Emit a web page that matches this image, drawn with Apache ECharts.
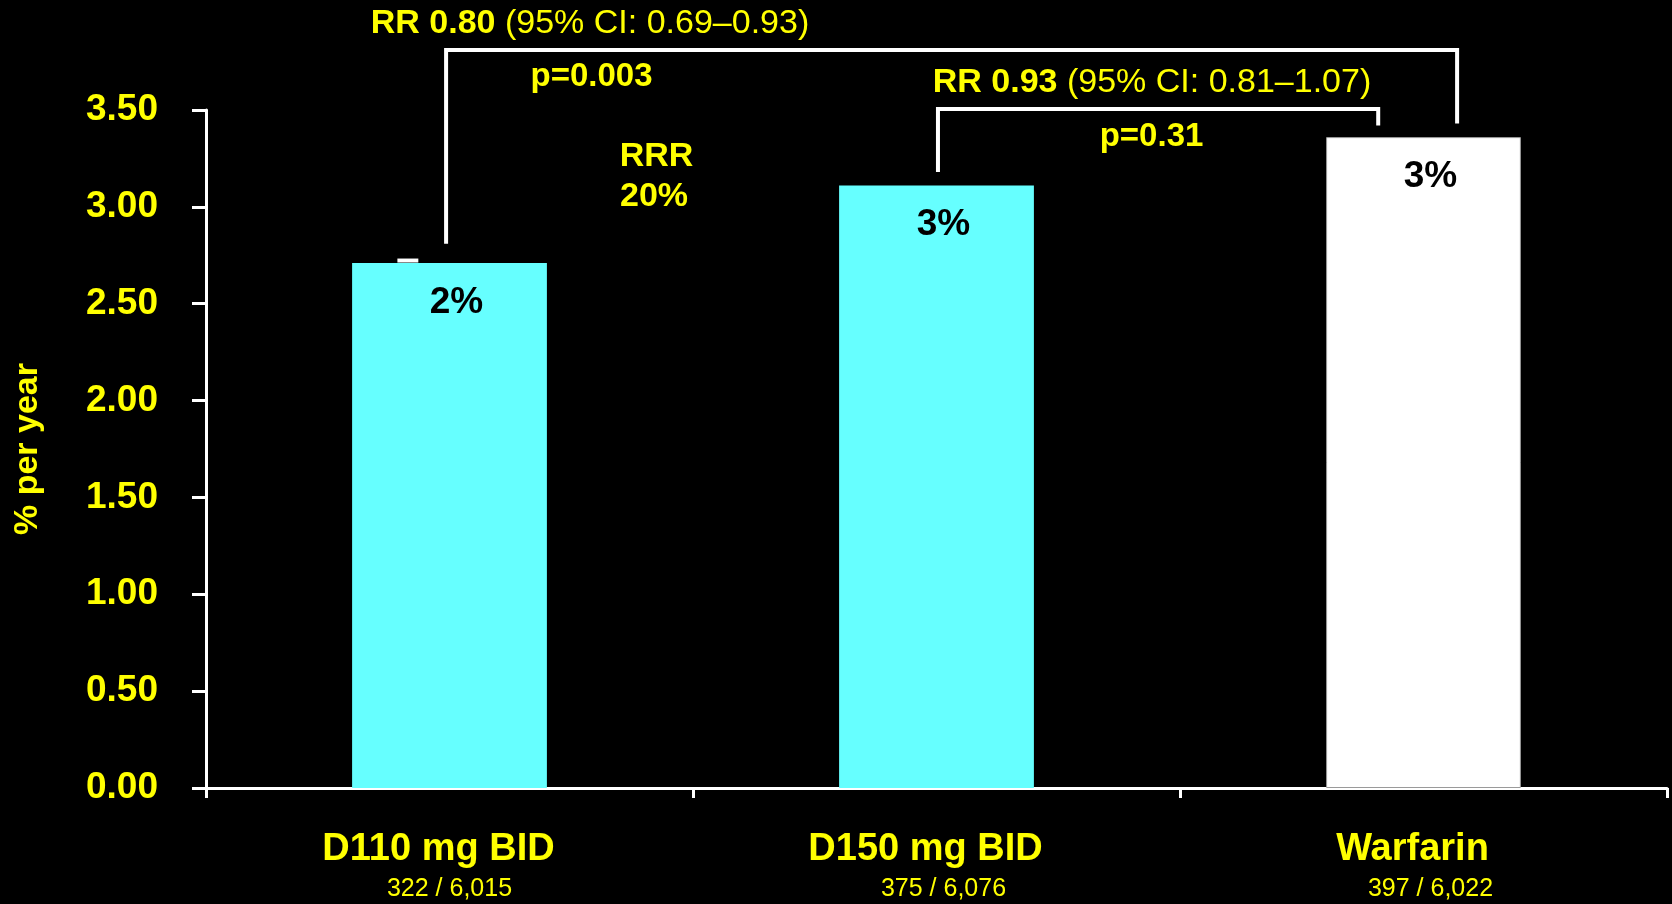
<!DOCTYPE html>
<html>
<head>
<meta charset="utf-8">
<script src="https://cdn.jsdelivr.net/npm/echarts@6/dist/echarts.min.js"></script>
<style>
  html, body { margin: 0; padding: 0; background: #000; }
  #chart { width: 1672px; height: 904px; }
</style>
</head>
<body>
<div id="chart"></div>
<script>
// Annual event rate by treatment arm
const categories = ['D110 mg BID', 'D150 mg BID', 'Warfarin'];
const eventCounts = ['322 / 6,015', '375 / 6,076', '397 / 6,022'];
const ratePerYear = [2.71, 3.11, 3.36];
const barColors = ['#66FFFF', '#66FFFF', '#FFFFFF'];
const yAxisName = '% per year';

// Pairwise comparisons against warfarin
const rrValues = ['RR 0.80', 'RR 0.93'];
const ciTexts = ['(95% CI: 0.69–0.93)', '(95% CI: 0.81–1.07)'];
const pTexts = ['p=0.003', 'p=0.31'];
const rrrLines = ['RRR', '20%'];

// Bracket geometry in axis units (category index, % per year)
const bracketLayout = [
  { x0: -0.007, x1: 2.069, top: 3.81, bot0: 2.81, bot1: 3.43, rrAt: [0.2885, 3.947], pAt: [0.2916, 3.671] },
  { x0: 1.003, x1: 1.907, top: 3.505, bot0: 3.18, bot1: 3.42, rrAt: [1.4425, 3.64], pAt: [1.4415, 3.363] }
];
const rrrAt = [[0.425, 3.258], [0.42, 3.051]];
// short white tick resting on the first bar (category offset range)
const capSpan = [-0.107, -0.064];

const YELLOW = '#FFFF00';
const FONT = '"Liberation Sans", Arial, Helvetica, sans-serif';

const chart = echarts.init(document.getElementById('chart'), null, { renderer: 'canvas' });

function toPx(api, x, y) {
  const base = api.coord([0, y]);
  const band = api.size([1, 0])[0];
  return [base[0] + x * band, base[1]];
}

function yellowText(pos, text, rich, size, weight) {
  return {
    type: 'text',
    x: pos[0], y: pos[1],
    style: {
      text: text,
      fill: YELLOW,
      font: (weight || 'bold') + ' ' + size + 'px ' + FONT,
      align: 'center',
      verticalAlign: 'middle',
      rich: rich
    },
    z2: 10
  };
}

function renderBracket(params, api) {
  const i = params.dataIndex;
  const b = bracketLayout[i];
  const pTopL = toPx(api, b.x0, b.top);
  const pTopR = toPx(api, b.x1, b.top);
  const pBotL = toPx(api, b.x0, b.bot0);
  const pBotR = toPx(api, b.x1, b.bot1);
  const children = [{
    type: 'polyline',
    shape: { points: [pBotL, pTopL, pTopR, pBotR] },
    style: { stroke: '#FFFFFF', lineWidth: 4, fill: null, lineJoin: 'miter' }
  }];
  const rich = {
    b: { fontFamily: FONT, fontWeight: 'bold', fontSize: 34, fill: YELLOW, color: YELLOW },
    n: { fontFamily: FONT, fontWeight: 'normal', fontSize: 34, fill: YELLOW, color: YELLOW }
  };
  children.push(yellowText(toPx(api, b.rrAt[0], b.rrAt[1]),
    '{b|' + rrValues[i] + '} {n|' + ciTexts[i] + '}', rich, 34));
  children.push(yellowText(toPx(api, b.pAt[0], b.pAt[1]), pTexts[i], null, 33));
  if (i === 0) {
    rrrLines.forEach(function (line, k) {
      children.push(yellowText(toPx(api, rrrAt[k][0], rrrAt[k][1]), line, null, 34));
    });
    const c0 = toPx(api, capSpan[0], ratePerYear[0]);
    const c1 = toPx(api, capSpan[1], ratePerYear[0]);
    children.push({
      type: 'line',
      shape: { x1: c0[0], y1: c0[1] - 2.5, x2: c1[0], y2: c1[1] - 2.5 },
      style: { stroke: '#FFFFFF', lineWidth: 4 }
    });
  }
  return { type: 'group', children: children };
}

const option = {
  backgroundColor: '#000000',
  animation: false,
  grid: { left: 206, right: 5, top: 110, bottom: 116, containLabel: false },
  xAxis: {
    type: 'category',
    data: categories,
    boundaryGap: true,
    axisLine: { lineStyle: { color: '#FFFFFF', width: 3 } },
    axisTick: { show: true, length: 10, lineStyle: { color: '#FFFFFF', width: 3 } },
    axisLabel: {
      margin: 40,
      interval: 0,
      formatter: function (value, idx) {
        return '{a|' + value + '}\n{' + (idx === 0 ? 'c' : 'd') + '|' + eventCounts[idx] + '}';
      },
      rich: {
        a: { fontFamily: FONT, fontWeight: 'bold', fontSize: 38, color: YELLOW, lineHeight: 44, padding: [0, 22, 0, 0] },
        c: { fontFamily: FONT, fontWeight: 'normal', fontSize: 25, color: YELLOW, lineHeight: 34 },
        d: { fontFamily: FONT, fontWeight: 'normal', fontSize: 25, color: YELLOW, lineHeight: 34, padding: [0, 0, 0, 14] }
      }
    },
    splitLine: { show: false }
  },
  yAxis: {
    type: 'value',
    min: 0,
    max: 3.5,
    interval: 0.5,
    name: yAxisName,
    nameLocation: 'middle',
    nameRotate: 90,
    nameGap: 161,
    nameTextStyle: { color: YELLOW, fontFamily: FONT, fontWeight: 'bold', fontSize: 34 },
    axisLine: { show: true, lineStyle: { color: '#FFFFFF', width: 3 } },
    axisTick: { show: true, length: 14, lineStyle: { color: '#FFFFFF', width: 3 } },
    axisLabel: {
      margin: 48,
      color: YELLOW,
      fontFamily: FONT,
      fontWeight: 'bold',
      fontSize: 37,
      padding: [6, 0, 0, 0],
      formatter: function (v) { return v.toFixed(2); }
    },
    splitLine: { show: false }
  },
  series: [
    {
      type: 'bar',
      barWidth: '40%',
      data: ratePerYear.map(function (v, i) {
        return {
          value: v,
          itemStyle: {
            color: barColors[i],
            borderColor: i === 2 ? '#9a9a9a' : barColors[i],
            borderWidth: i === 2 ? 1 : 0
          }
        };
      }),
      label: {
        show: true,
        position: 'insideTop',
        distance: 21,
        offset: [7, 0],
        color: '#000000',
        fontFamily: FONT,
        fontWeight: 'bold',
        fontSize: 37,
        formatter: function (p) { return Math.floor(p.value) + '%'; }
      },
      z: 2
    },
    {
      type: 'custom',
      clip: false,
      silent: true,
      data: bracketLayout.map(function (b, i) { return [i, b.top]; }),
      renderItem: renderBracket,
      z: 5
    }
  ]
};

chart.setOption(option);
</script>
</body>
</html>
